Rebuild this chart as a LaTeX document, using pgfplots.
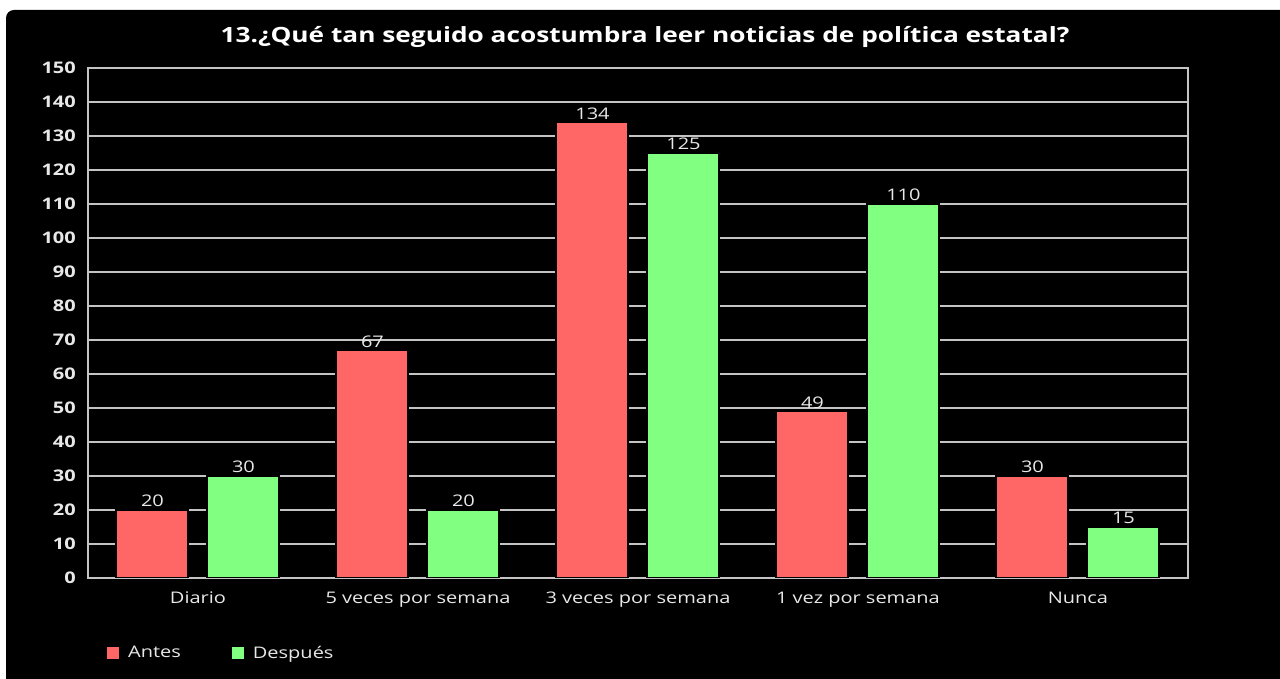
\documentclass[border=0pt]{standalone}
\usepackage{fontspec}
\setmainfont{Open Sans}[FakeStretch=1.25]
\usepackage{pgfplots}
\pgfplotsset{compat=1.18}
\definecolor{antes}{HTML}{FF6666}
\definecolor{desp}{HTML}{80FF80}
\definecolor{gridc}{HTML}{C4C4C4}
\definecolor{txt}{HTML}{E8E8E8}
\begin{document}
\begin{tikzpicture}
\useasboundingbox (0,0) rectangle (1280pt,679pt);
\fill[white] (0,0) rectangle (1280pt,679pt);
\fill[black, rounded corners=8pt] (6pt,-20pt) rectangle (1300pt,669pt);
\node[anchor=base, text=white, font=\fontsize{21}{25}\selectfont\bfseries] at (645pt,636pt) {13.¿Qué tan seguido acostumbra leer noticias de política estatal?};
\begin{axis}[
  at={(88pt,101pt)}, anchor=south west, scale only axis,
  width=1100pt, height=510pt,
  xmin=-0.5, xmax=4.5, ymin=0, ymax=150,
  ytick={0,10,...,150},
  xtick={0,1,2,3,4},
  xticklabels={Diario,5 veces por semana,3 veces por semana,1 vez por semana,Nunca},
  major tick length=0pt,
  ymajorgrids,
  grid style={gridc, line width=1.8pt},
  axis line style={gridc, line width=1.8pt},
  /pgf/number format/assume math mode=true,
  yticklabel style={anchor=east, inner sep=0pt, xshift=-12pt, text=txt, font=\fontsize{16}{19}\selectfont\bfseries},
  xticklabel style={anchor=base, inner sep=0pt, yshift=-26pt, text=txt, font=\fontsize{16}{19}\selectfont},
  ybar, bar width=72pt,
  nodes near coords,
  every node near coord/.append style={anchor=base, yshift=3pt, text=txt, font=\fontsize{16}{19}\selectfont},
  legend columns=2,
  legend style={at={(0.0145,-0.147)}, anchor=west, draw=none, fill=none, text=txt, font=\fontsize{16}{19}\selectfont, /tikz/every even column/.append style={column sep=49pt}},
  legend image code/.code={\fill[#1, draw=none] (0pt,-6pt) rectangle (12pt,6pt); \path (18pt,0pt);},
]
\addplot[fill=antes, draw=black, line width=2pt, bar shift=-45.5pt] coordinates {(0,20) (1,67) (2,134) (3,49) (4,30)};
\addplot[fill=desp, draw=black, line width=2pt, bar shift=45.5pt] coordinates {(0,30) (1,20) (2,125) (3,110) (4,15)};
\legend{Antes, Después}
\end{axis}
\end{tikzpicture}
\end{document}
